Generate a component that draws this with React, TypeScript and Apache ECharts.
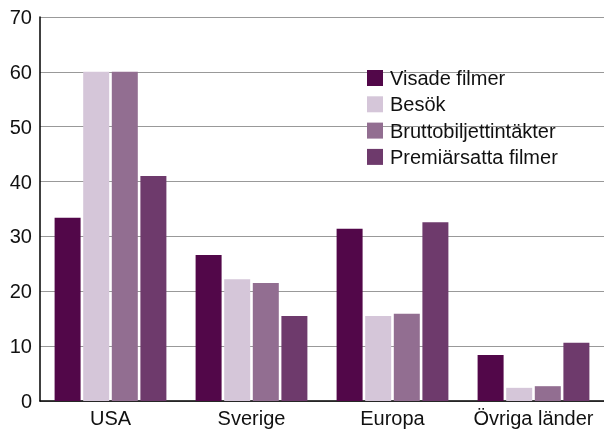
import React, { useEffect, useRef } from "react";
import * as echarts from "echarts";

const categories = ["USA", "Sverige", "Europa", "Övriga länder"];
const seriesNames = ["Visade filmer", "Besök", "Bruttobiljettintäkter", "Premiärsatta filmer"];
const visadeFilmer = [33.4, 26.6, 31.4, 8.4];
const besok = [60, 22.2, 15.5, 2.4];
const brutto = [60, 21.5, 15.9, 2.7];
const premiar = [41.0, 15.5, 32.6, 10.6];
const colors = ["#520749", "#d5c6d9", "#926e91", "#6e3a6c"];

export default function App() {
  const ref = useRef<HTMLDivElement>(null);
  useEffect(() => {
    const chart = echarts.init(ref.current!, null, { renderer: "svg" });
    const font = "'Liberation Sans', Arial, Helvetica, sans-serif";
    const data = [visadeFilmer, besok, brutto, premiar];
    chart.setOption({
      animation: false,
      textStyle: { fontFamily: font },
      grid: { left: 40, right: 0, top: 17, bottom: 29, containLabel: false },
      legend: {
        orient: "vertical",
        left: 367,
        top: 68,
        padding: 0,
        icon: "rect",
        itemWidth: 16,
        itemHeight: 16,
        itemGap: 6.3,
        textStyle: { fontSize: 20, color: "#111", fontFamily: font, lineHeight: 20, padding: [0, 0, 0, 2] },
        data: seriesNames,
      },
      xAxis: {
        type: "category",
        data: categories,
        axisTick: { show: false },
        axisLine: { lineStyle: { color: "#000", width: 1.5 } },
        axisLabel: { fontSize: 20, color: "#111", margin: 7, interval: 0, fontFamily: font },
      },
      yAxis: {
        type: "value",
        min: 0,
        max: 70,
        interval: 10,
        axisLine: { show: true, lineStyle: { color: "#000", width: 1.5 } },
        axisTick: { show: false },
        axisLabel: { fontSize: 20, color: "#111", margin: 8, fontFamily: font },
        splitLine: { lineStyle: { color: "#999", width: 1 } },
      },
      series: seriesNames.map((name, i) => ({
        name,
        type: "bar",
        data: data[i],
        barWidth: 26,
        barGap: "10%",
        itemStyle: { color: colors[i] },
      })),
    });
    return () => chart.dispose();
  }, []);
  return <div ref={ref} style={{ position: "fixed", left: 0, top: 0, width: 604, height: 430 }} />;
}
